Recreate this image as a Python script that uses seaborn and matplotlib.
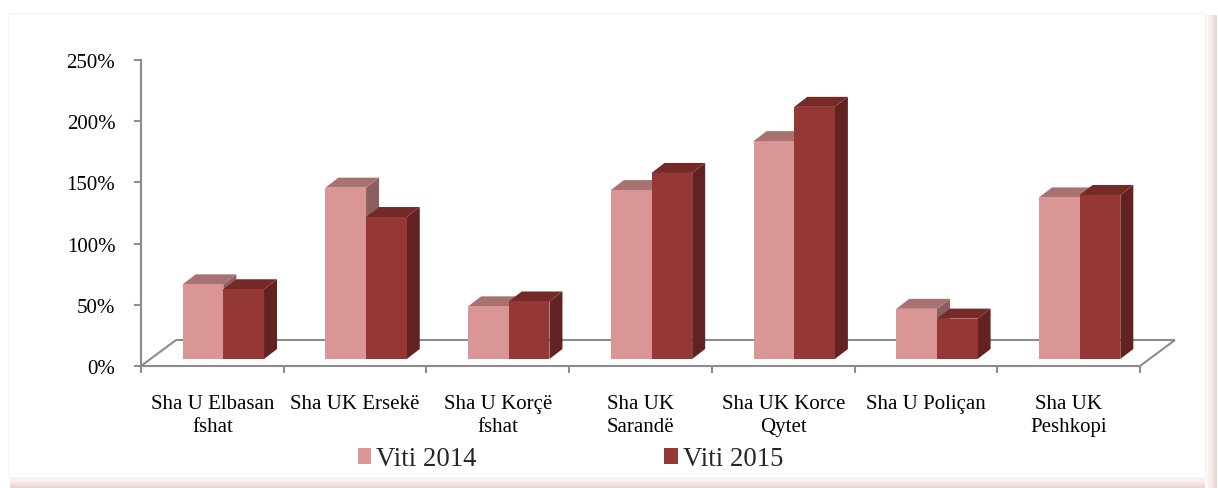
import matplotlib
matplotlib.use("Agg")
import matplotlib.pyplot as plt
import seaborn as sns
import pandas as pd
import numpy as np
from matplotlib.patches import Polygon, Patch, Rectangle
from matplotlib.transforms import ScaledTranslation
from matplotlib.colors import to_rgba

# ---------------- data ----------------
categories = ["Sha U Elbasan\nfshat", "Sha UK Ersekë", "Sha U Korçë\nfshat",
              "Sha UK\nSarandë", "Sha UK Korce\nQytet", "Sha U Poliçan",
              "Sha UK\nPeshkopi"]
series = ["Viti 2014", "Viti 2015"]
v2014 = [61, 140, 43, 138, 178, 41, 132]
v2015 = [57, 116, 47, 152, 206, 33, 134]
yticks = [0, 50, 100, 150, 200, 250]
ytick_labels = ["0%", "50%", "100%", "150%", "200%", "250%"]

# ---------------- style ----------------
front = {"Viti 2014": "#D99694", "Viti 2015": "#953735"}
topc = {"Viti 2014": "#A87270", "Viti 2015": "#762A28"}
sidec = {"Viti 2014": "#8C5F5E", "Viti 2015": "#612221"}
axis_col = "#8C8C8C"

sns.set_theme(style="white")
plt.rcParams["font.family"] = ["Liberation Serif", "DejaVu Serif"]

W, H = 1218, 489
DPI = 100
fig = plt.figure(figsize=(W / DPI, H / DPI), dpi=DPI)
fig.patch.set_facecolor("white")

ax_l, ax_b, ax_w, ax_h = 141, 122, 999, 306
ax = fig.add_axes([ax_l / W, ax_b / H, ax_w / W, ax_h / H])

df = pd.DataFrame({
    "cat": categories * 2,
    "val": v2014 + v2015,
    "year": [series[0]] * len(categories) + [series[1]] * len(categories),
})
sns.barplot(data=df, x="cat", y="val", hue="year", order=categories,
            hue_order=series, palette=[front[s] for s in series],
            width=0.57, saturation=1, linewidth=0, legend=False, ax=ax)

ax.set_xlim(-0.5, len(categories) - 0.5)
ax.set_ylim(0, 250)
ax.set_xlabel("")
ax.set_ylabel("")

ux = (len(categories)) / ax_w     # data units per pixel (x)
uy = 250 / ax_h                   # data units per pixel (y)

# pseudo-3D bars
shift = ScaledTranslation(11 / DPI, 7 / DPI, fig.dpi_scale_trans)
bar_tr = ax.transData + shift
dx, dy = 13 * ux, 10 * uy
for p in list(ax.patches):
    fc = p.get_facecolor()
    s = min(series, key=lambda k: np.sum(np.abs(np.array(to_rgba(front[k])) - np.array(fc))))
    p.set_transform(bar_tr)
    p.set_zorder(3)
    p.set_clip_on(False)
    x0, w, h = p.get_x(), p.get_width(), p.get_height()
    top = Polygon([(x0, h), (x0 + w, h), (x0 + w + dx, h + dy), (x0 + dx, h + dy)],
                  closed=True, fc=topc[s], ec="none", transform=bar_tr,
                  zorder=2.5, clip_on=False)
    side = Polygon([(x0 + w, 0), (x0 + w + dx, dy), (x0 + w + dx, h + dy), (x0 + w, h)],
                   closed=True, fc=sidec[s], ec="none", transform=bar_tr,
                   zorder=2, clip_on=False)
    ax.add_patch(top)
    ax.add_patch(side)

# floor outline
xl, xr = -0.5, len(categories) - 0.5
fdx, fdy = 35 * ux, 26 * uy
for xs, ys in [([xl, xl + fdx], [0, fdy]), ([xl + fdx, xr + fdx], [fdy, fdy]),
               ([xr, xr + fdx], [0, fdy])]:
    ax.plot(xs, ys, color=axis_col, lw=1.5, clip_on=False, zorder=1,
            solid_capstyle="butt")

# axes styling
for sp in ["top", "right"]:
    ax.spines[sp].set_visible(False)
for sp in ["left", "bottom"]:
    ax.spines[sp].set_color(axis_col)
    ax.spines[sp].set_linewidth(1.5)

ax.set_yticks(yticks, ytick_labels)
ax.tick_params(axis="y", left=True, length=5, width=1.5, color=axis_col,
               pad=13.5, labelsize=15, labelcolor="black", direction="out")
ax.set_xticks(np.arange(xl, xr + 0.01, 1.0), labels=[""] * (len(categories) + 1))
ax.set_xticks(np.arange(len(categories)), labels=categories, minor=True)
ax.tick_params(axis="x", which="major", bottom=True, length=5, width=1.5,
               color=axis_col, direction="out")
ax.tick_params(axis="x", which="minor", bottom=True, length=0, pad=20,
               labelsize=15, labelcolor="black")
for t in ax.get_xticklabels(minor=True):
    t.set_linespacing(1.32)
ax.grid(False)
ax.set_facecolor("none")

# legend
handles = [Patch(fc=front[s], ec="none") for s in series]
fig.legend(handles, series, loc="center", bbox_to_anchor=(570.5 / W, 29 / H),
           ncol=2, frameon=False, fontsize=19.3, handlelength=0.5,
           handleheight=0.5, handletextpad=0.2, columnspacing=7.0,
           borderpad=0, borderaxespad=0)

# chart frame and shadow
fig.patches.append(Rectangle((8 / W, (H - 479) / H), (1205 - 8) / W, (479 - 14) / H,
                             transform=fig.transFigure, fill=False,
                             ec="#f4f4f4", lw=0.8, zorder=0))
n = 12
for k in range(n):
    a = 0.05 + 0.45 * (k / (n - 1)) ** 1.5
    fig.patches.append(Rectangle(((1205 + k) / W, 0), 1 / W, (H - 16) / H,
                                 transform=fig.transFigure, fc="#D9A3A3",
                                 ec="none", alpha=a, zorder=0))
    fig.patches.append(Rectangle((10 / W, (n - 1 - k) / H), (1205 - 10) / W, 1 / H,
                                 transform=fig.transFigure, fc="#D9A3A3",
                                 ec="none", alpha=a, zorder=0))

fig.savefig("out.png", dpi=DPI)
